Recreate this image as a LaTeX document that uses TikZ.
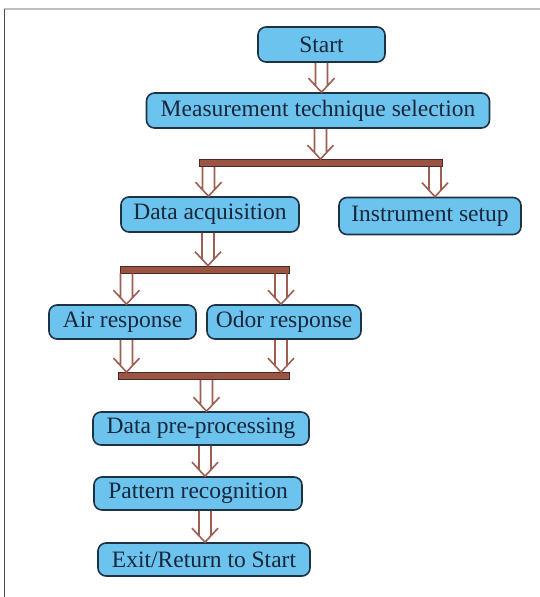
\documentclass[tikz,border=0pt]{standalone}
\usepackage{fontspec}
\setmainfont{Liberation Serif}
\usetikzlibrary{calc}
\definecolor{boxfill}{HTML}{6CC4EE}
\definecolor{boxline}{HTML}{1F3244}
\definecolor{txtc}{HTML}{17263A}
\definecolor{barfill}{HTML}{9B5444}
\definecolor{barline}{HTML}{4A2A22}
\definecolor{arrc}{HTML}{9C5F52}
\tikzset{
  stepbox/.style={draw=boxline, line width=1.6pt, fill=boxfill, rounded corners=8pt,
    text=txtc, font=\fontsize{23.5}{26}\selectfont, inner sep=0pt, anchor=center},
  barbox/.style={draw=barline, line width=0.8pt, fill=barfill, inner sep=0pt, minimum height=7pt},
  darrow/.style={draw=arrc, line width=1.6pt, line cap=butt, to path={
    let \p1=(\tikztostart), \p2=(\tikztotarget) in
    (\x1-6pt,\y1) -- (\x1-6pt,\y2+6.5pt)
    (\x1+6pt,\y1) -- (\x1+6pt,\y2+6.5pt)
    (\x1-13pt,\y2+14pt) -- (\x1,\y2) -- (\x1+13pt,\y2+14pt)}}
}
\begin{document}
\begin{tikzpicture}[x=1pt,y=-1pt]
\useasboundingbox (0,0) rectangle (540,597);
\fill[white] (0,0) rectangle (540,597);
\draw[black!25, line width=1.2pt] (4,9) -- (540,9);
\draw[black!70, line width=1.5pt] (4.5,9) -- (4.5,597);

\node[stepbox, minimum width=127pt, minimum height=35pt] (start) at (321.5,44.5) {Start};
\node[stepbox, minimum width=343pt, minimum height=35pt] (mts) at (318,110.5) {Measurement technique selection};
\node[barbox, minimum width=243pt] (bar1) at (320.5,163) {};
\node[stepbox, minimum width=178pt, minimum height=35pt] (da) at (210,214.5) {Data acquisition};
\node[stepbox, minimum width=182pt, minimum height=37pt] (is) at (430,216) {Instrument setup};
\node[barbox, minimum width=169pt] (bar2) at (204.5,269.5) {};
\node[stepbox, minimum width=147pt, minimum height=34pt] (air) at (122.5,322) {Air response};
\node[stepbox, minimum width=154pt, minimum height=34pt] (odor) at (284,322) {Odor response};
\node[barbox, minimum width=171pt] (bar3) at (203.5,376) {};
\node[stepbox, minimum width=216pt, minimum height=33pt] (dpp) at (201,428.5) {Data pre-processing};
\node[stepbox, minimum width=208pt, minimum height=33pt] (pr) at (198,493.5) {Pattern recognition};
\node[stepbox, minimum width=212pt, minimum height=33pt] (er) at (204,559.5) {Exit/Return to Start};

\draw[darrow] (start.south) to (start.south |- mts.north);
\draw[darrow] (mts.south -| bar1.north) to (bar1.north);
\draw[darrow] ([xshift=-1.5pt]bar1.south -| da.north) to ([xshift=-1.5pt]da.north);
\draw[darrow] ([xshift=5pt]bar1.south -| is.north) to ([xshift=5pt]is.north);
\draw[darrow] ([xshift=-2pt]da.south) to ([xshift=-2pt]da.south |- bar2.north);
\draw[darrow] ([xshift=4pt]bar2.south -| air.north) to ([xshift=4pt]air.north);
\draw[darrow] ([xshift=-3pt]bar2.south -| odor.north) to ([xshift=-3pt]odor.north);
\draw[darrow] ([xshift=4pt]air.south) to ([xshift=4pt]air.south |- bar3.north);
\draw[darrow] ([xshift=-3pt]odor.south) to ([xshift=-3pt]odor.south |- bar3.north);
\draw[darrow] ([xshift=3pt]bar3.south) to ([xshift=3pt]bar3.south |- dpp.north);
\draw[darrow] ([xshift=4pt]dpp.south) to ([xshift=4pt]dpp.south |- pr.north);
\draw[darrow] ([xshift=7pt]pr.south) to ([xshift=7pt]pr.south |- er.north);
\end{tikzpicture}
\end{document}
